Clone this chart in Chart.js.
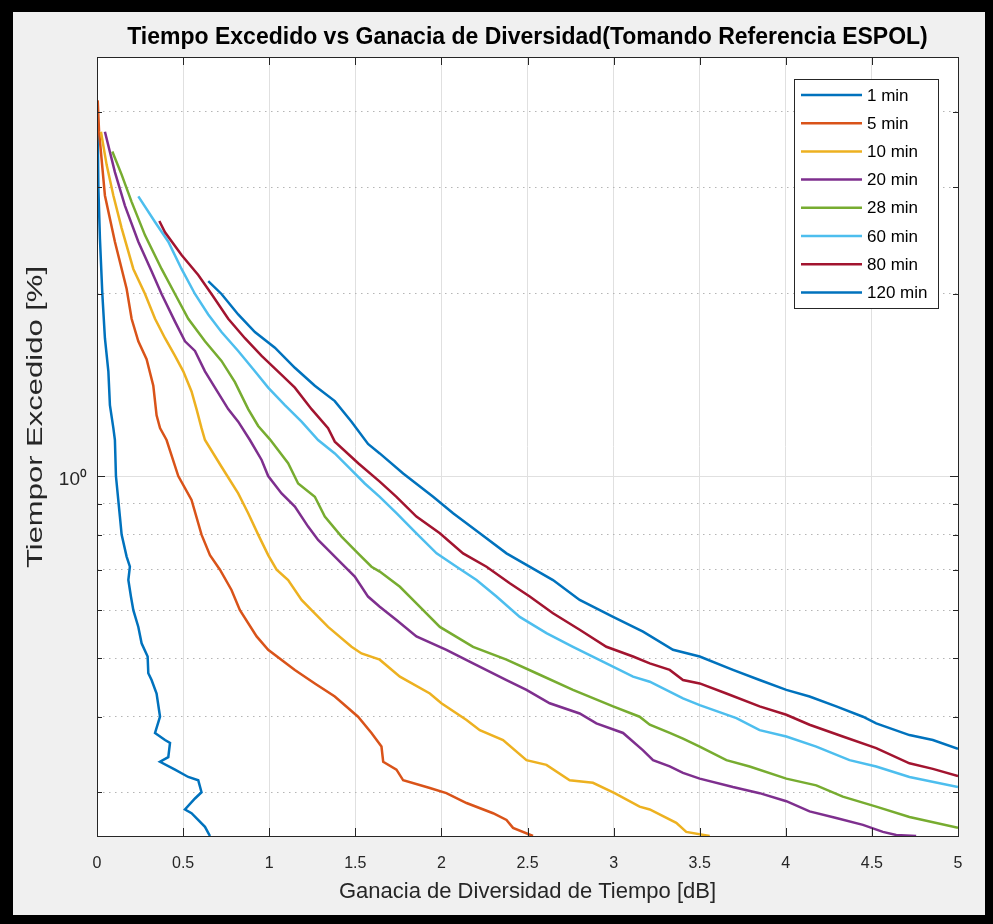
<!DOCTYPE html>
<html>
<head>
<meta charset="utf-8">
<script src="https://cdn.jsdelivr.net/npm/chart.js@4.4.1/dist/chart.umd.min.js"></script>
<style>
  html, body { margin: 0; padding: 0; background: #000; }
  body { width: 993px; height: 924px; position: relative; overflow: hidden; }
  #panel { position: absolute; left: 13px; top: 12px; width: 972px; height: 903px; background: #f0f0f0; }
  canvas { display: block; }
</style>
</head>
<body>
<div id="panel"><canvas id="chart" width="972" height="903"></canvas></div>
<script>
/* --------- DATA --------- */
const seriesLabels = ["1 min", "5 min", "10 min", "20 min", "28 min", "60 min", "80 min", "120 min"];
const seriesColors = ["#0072BD", "#D95319", "#EDB120", "#7E2F8E", "#77AC30", "#4DBEEE", "#A2142F", "#0072BD"];

const yGridValues = [0.3, 0.4, 0.5, 0.6, 0.7, 0.8, 0.9, 1, 2, 3, 4];
const yTitleText = "Tiempor Excedido [%]";

// gain [dB] / time exceeded [%]
const gain1 = [0.004, 0.008, 0.017, 0.031, 0.046, 0.066, 0.075, 0.095, 0.104, 0.110, 0.133, 0.143, 0.172, 0.191, 0.182, 0.197, 0.211, 0.240, 0.259, 0.294, 0.298, 0.317, 0.346, 0.366, 0.337, 0.395, 0.424, 0.414, 0.366, 0.453, 0.530, 0.588, 0.607, 0.569, 0.511, 0.549, 0.627, 0.656];
const time1 = [3.71, 2.99, 2.47, 2.00, 1.69, 1.49, 1.31, 1.20, 1.147, 1.00, 0.857, 0.80, 0.736, 0.708, 0.673, 0.632, 0.60, 0.563, 0.529, 0.503, 0.472, 0.460, 0.437, 0.400, 0.376, 0.366, 0.362, 0.343, 0.337, 0.327, 0.318, 0.314, 0.300, 0.293, 0.281, 0.277, 0.263, 0.254];

const gain5 = [0.004, 0.012, 0.046, 0.104, 0.172, 0.201, 0.240, 0.288, 0.327, 0.346, 0.366, 0.404, 0.472, 0.549, 0.607, 0.656, 0.714, 0.781, 0.830, 0.927, 0.994, 1.149, 1.265, 1.381, 1.516, 1.594, 1.652, 1.662, 1.739, 1.778, 1.933, 2.029, 2.146, 2.300, 2.378, 2.416, 2.532];
const time5 = [4.18, 3.71, 2.91, 2.44, 2.04, 1.82, 1.67, 1.56, 1.41, 1.26, 1.20, 1.147, 1.00, 0.913, 0.80, 0.740, 0.70, 0.648, 0.60, 0.543, 0.516, 0.478, 0.454, 0.432, 0.400, 0.376, 0.357, 0.337, 0.327, 0.314, 0.305, 0.299, 0.288, 0.277, 0.270, 0.262, 0.254];

const gain10 = [0.023, 0.056, 0.095, 0.143, 0.211, 0.279, 0.337, 0.395, 0.453, 0.501, 0.549, 0.578, 0.607, 0.627, 0.723, 0.820, 0.878, 0.936, 0.994, 1.043, 1.110, 1.188, 1.246, 1.342, 1.478, 1.536, 1.642, 1.759, 1.933, 2.000, 2.146, 2.223, 2.358, 2.494, 2.610, 2.745, 2.880, 3.006, 3.151, 3.210, 3.364, 3.422, 3.558];
const time10 = [3.71, 3.27, 2.91, 2.57, 2.20, 2.00, 1.82, 1.69, 1.58, 1.49, 1.38, 1.29, 1.20, 1.147, 1.036, 0.936, 0.868, 0.80, 0.740, 0.70, 0.673, 0.624, 0.60, 0.563, 0.522, 0.509, 0.497, 0.466, 0.437, 0.421, 0.395, 0.380, 0.366, 0.339, 0.333, 0.314, 0.311, 0.299, 0.284, 0.281, 0.267, 0.258, 0.254];

const gain20 = [0.046, 0.104, 0.162, 0.240, 0.317, 0.375, 0.453, 0.511, 0.569, 0.627, 0.685, 0.762, 0.820, 0.888, 0.956, 0.994, 1.072, 1.149, 1.226, 1.284, 1.342, 1.420, 1.497, 1.574, 1.642, 1.739, 1.855, 2.029, 2.184, 2.378, 2.494, 2.629, 2.803, 2.900, 3.055, 3.171, 3.229, 3.326, 3.403, 3.500, 3.693, 3.848, 4.003, 4.138, 4.293, 4.448, 4.564, 4.641, 4.757];
const time20 = [3.71, 3.18, 2.80, 2.44, 2.18, 2.00, 1.80, 1.67, 1.61, 1.49, 1.40, 1.29, 1.23, 1.147, 1.063, 1.00, 0.936, 0.890, 0.825, 0.784, 0.755, 0.717, 0.682, 0.632, 0.608, 0.578, 0.543, 0.516, 0.490, 0.460, 0.443, 0.421, 0.405, 0.390, 0.376, 0.352, 0.339, 0.331, 0.323, 0.316, 0.306, 0.299, 0.290, 0.279, 0.272, 0.265, 0.258, 0.255, 0.254];

const gain28 = [0.089, 0.143, 0.201, 0.279, 0.375, 0.453, 0.530, 0.627, 0.723, 0.801, 0.878, 0.936, 1.004, 1.110, 1.168, 1.265, 1.323, 1.420, 1.516, 1.594, 1.642, 1.759, 1.855, 1.991, 2.184, 2.378, 2.552, 2.764, 2.997, 3.151, 3.210, 3.326, 3.403, 3.500, 3.655, 3.790, 4.003, 4.177, 4.331, 4.525, 4.718, 5.000];
const time28 = [3.44, 3.15, 2.84, 2.50, 2.20, 2.00, 1.82, 1.67, 1.55, 1.43, 1.29, 1.21, 1.15, 1.05, 0.972, 0.924, 0.857, 0.794, 0.745, 0.708, 0.695, 0.656, 0.616, 0.563, 0.522, 0.497, 0.472, 0.443, 0.416, 0.400, 0.388, 0.376, 0.368, 0.357, 0.339, 0.331, 0.316, 0.308, 0.295, 0.284, 0.273, 0.262];

const gain60 = [0.240, 0.337, 0.414, 0.491, 0.569, 0.646, 0.723, 0.820, 0.917, 0.994, 1.091, 1.188, 1.284, 1.381, 1.478, 1.555, 1.642, 1.739, 1.855, 1.972, 2.088, 2.204, 2.320, 2.455, 2.610, 2.764, 2.958, 3.113, 3.210, 3.403, 3.500, 3.713, 3.848, 4.003, 4.177, 4.370, 4.525, 4.718, 5.000];
const time60 = [2.90, 2.63, 2.44, 2.20, 2.00, 1.85, 1.73, 1.61, 1.49, 1.40, 1.31, 1.23, 1.147, 1.09, 1.023, 0.972, 0.924, 0.868, 0.804, 0.745, 0.708, 0.673, 0.632, 0.585, 0.550, 0.522, 0.490, 0.466, 0.457, 0.429, 0.418, 0.398, 0.380, 0.371, 0.357, 0.339, 0.331, 0.318, 0.306];

const gain80 = [0.362, 0.395, 0.491, 0.588, 0.665, 0.762, 0.859, 0.956, 1.072, 1.149, 1.246, 1.342, 1.381, 1.517, 1.642, 1.739, 1.855, 1.991, 2.126, 2.262, 2.397, 2.513, 2.648, 2.803, 2.958, 3.113, 3.210, 3.326, 3.403, 3.500, 3.655, 3.848, 4.003, 4.138, 4.331, 4.525, 4.718, 4.854, 5.000];
const time80 = [2.64, 2.53, 2.32, 2.15, 2.00, 1.82, 1.69, 1.58, 1.47, 1.40, 1.29, 1.20, 1.14, 1.05, 0.979, 0.924, 0.857, 0.804, 0.745, 0.708, 0.665, 0.632, 0.593, 0.557, 0.522, 0.503, 0.490, 0.478, 0.460, 0.454, 0.437, 0.416, 0.403, 0.388, 0.371, 0.355, 0.335, 0.328, 0.319];

const gain120 = [0.646, 0.723, 0.820, 0.917, 1.033, 1.149, 1.265, 1.381, 1.478, 1.574, 1.642, 1.778, 1.952, 2.068, 2.223, 2.378, 2.494, 2.648, 2.803, 2.997, 3.171, 3.345, 3.500, 3.693, 3.848, 4.003, 4.138, 4.293, 4.448, 4.525, 4.718, 4.854, 5.000];
const time120 = [2.10, 2.00, 1.85, 1.73, 1.63, 1.51, 1.41, 1.33, 1.23, 1.13, 1.09, 1.01, 0.924, 0.868, 0.804, 0.745, 0.713, 0.673, 0.624, 0.585, 0.553, 0.516, 0.503, 0.478, 0.460, 0.443, 0.432, 0.416, 0.400, 0.390, 0.373, 0.366, 0.354];

const gains = [gain1, gain5, gain10, gain20, gain28, gain60, gain80, gain120];
const times = [time1, time5, time10, time20, time28, time60, time80, time120];

/* --------- PLUGINS --------- */
const AXIS = "#262626";
const FONT = "'Liberation Sans', Arial, sans-serif";

const plotBg = {
  id: "plotBg",
  beforeDraw(chart) {
    const { ctx, chartArea: a } = chart;
    ctx.save();
    ctx.fillStyle = "#ffffff";
    ctx.fillRect(a.left, a.top, a.right - a.left, a.bottom - a.top);
    ctx.restore();
  }
};

const boxAndTicks = {
  id: "boxAndTicks",
  afterDraw(chart) {
    const { ctx, chartArea: a, scales } = chart;
    ctx.save();
    ctx.strokeStyle = AXIS;
    ctx.lineWidth = 1;
    ctx.beginPath();
    scales.x.ticks.forEach(t => {
      const px = Math.round(scales.x.getPixelForValue(t.value)) + 0.5;
      ctx.moveTo(px, a.bottom); ctx.lineTo(px, a.bottom - 8);
      ctx.moveTo(px, a.top); ctx.lineTo(px, a.top + 8);
    });
    scales.y.ticks.forEach(t => {
      const py = Math.round(scales.y.getPixelForValue(t.value)) + 0.5;
      const len = t.value === 1 ? 8 : 5;
      ctx.moveTo(a.left, py); ctx.lineTo(a.left + len, py);
      ctx.moveTo(a.right, py); ctx.lineTo(a.right - len, py);
    });
    ctx.stroke();
    ctx.strokeRect(Math.round(a.left) + 0.5, Math.round(a.top) + 0.5,
      Math.round(a.right - a.left), Math.round(a.bottom - a.top));
    ctx.restore();
  }
};

// y label drawn by hand: the reference text is tall and narrow
const yTitle = {
  id: "yTitle",
  afterDraw(chart) {
    const ctx = chart.ctx;
    ctx.save();
    ctx.translate(23, 405);
    ctx.rotate(-Math.PI / 2);
    ctx.scale(1, 0.72);
    ctx.font = `31px ${FONT}`;
    ctx.fillStyle = AXIS;
    ctx.textAlign = "center";
    ctx.textBaseline = "middle";
    ctx.fillText(yTitleText, 0, 0);
    ctx.restore();
  }
};

const boxLegend = {
  id: "boxLegend",
  afterDraw(chart) {
    const { ctx, chartArea: a } = chart;
    const w = 144, h = 229;
    const left = a.right - 20 - w, top = a.top + 22;
    ctx.save();
    ctx.fillStyle = "#ffffff";
    ctx.fillRect(left, top, w, h);
    ctx.strokeStyle = AXIS;
    ctx.lineWidth = 1;
    ctx.strokeRect(Math.round(left) + 0.5, Math.round(top) + 0.5, w, h);
    ctx.font = `17px ${FONT}`;
    ctx.textBaseline = "middle";
    ctx.textAlign = "left";
    chart.data.datasets.forEach((ds, i) => {
      const y = top + 16 + i * 28.2;
      ctx.strokeStyle = ds.borderColor;
      ctx.lineWidth = 2.5;
      ctx.beginPath();
      ctx.moveTo(left + 7, y); ctx.lineTo(left + 68, y);
      ctx.stroke();
      ctx.fillStyle = "#000000";
      ctx.fillText(ds.label, left + 73, y + 1);
    });
    ctx.restore();
  }
};

/* --------- CHART --------- */
Chart.defaults.font.family = FONT;

const datasets = seriesLabels.map((label, i) => ({
  label,
  data: gains[i].map((g, j) => ({ x: g, y: times[i][j] })),
  borderColor: seriesColors[i],
  backgroundColor: seriesColors[i],
  borderWidth: 2.5,
  pointRadius: 0,
  showLine: true,
  tension: 0,
  order: seriesLabels.length - i
}));

new Chart(document.getElementById("chart"), {
  type: "scatter",
  data: { datasets },
  options: {
    responsive: false,
    animation: false,
    devicePixelRatio: 1,
    layout: { padding: { left: 0, right: 27, top: 0, bottom: 0 } },
    plugins: {
      legend: { display: false },
      tooltip: { enabled: false },
      title: {
        display: true,
        fullSize: false,
        text: "Tiempo Excedido vs Ganacia de Diversidad(Tomando Referencia ESPOL)",
        color: "#000000",
        font: { size: 23, weight: "bold" },
        padding: { top: 12, bottom: 5.4 }
      }
    },
    scales: {
      x: {
        type: "linear",
        min: 0,
        max: 5,
        afterFit: s => { s.height = 79; },
        ticks: {
          stepSize: 0.5,
          callback: v => String(Math.round(v * 10) / 10),
          color: AXIS,
          font: { size: 16 },
          padding: 18,
          maxRotation: 0,
          autoSkip: false
        },
        grid: { color: "#e0e0e0", lineWidth: 1, drawTicks: false },
        border: { display: false },
        title: {
          display: true,
          text: "Ganacia de Diversidad de Tiempo [dB]",
          color: AXIS,
          font: { size: 22 },
          padding: { top: 0, bottom: 9.5 }
        }
      },
      y: {
        type: "logarithmic",
        min: 0.254,
        max: 4.93,
        afterFit: s => { s.width = 84; },
        afterBuildTicks: s => { s.ticks = yGridValues.map(v => ({ value: v })); },
        ticks: {
          callback: v => (v === 1 ? "10\u2070" : ""),
          color: AXIS,
          font: { size: 19 },
          padding: 10,
          labelOffset: 4,
          autoSkip: false
        },
        grid: {
          color: c => (c.tick && c.tick.value === 1 ? "#e0e0e0" : "#b5b5b5"),
          lineWidth: 1,
          drawTicks: false
        },
        border: {
          display: false,
          dash: c => (c.tick && c.tick.value !== 1 ? [1.5, 4.5] : [])
        },
        title: { display: false }
      }
    }
  },
  plugins: [plotBg, boxAndTicks, yTitle, boxLegend]
});
</script>
</body>
</html>
